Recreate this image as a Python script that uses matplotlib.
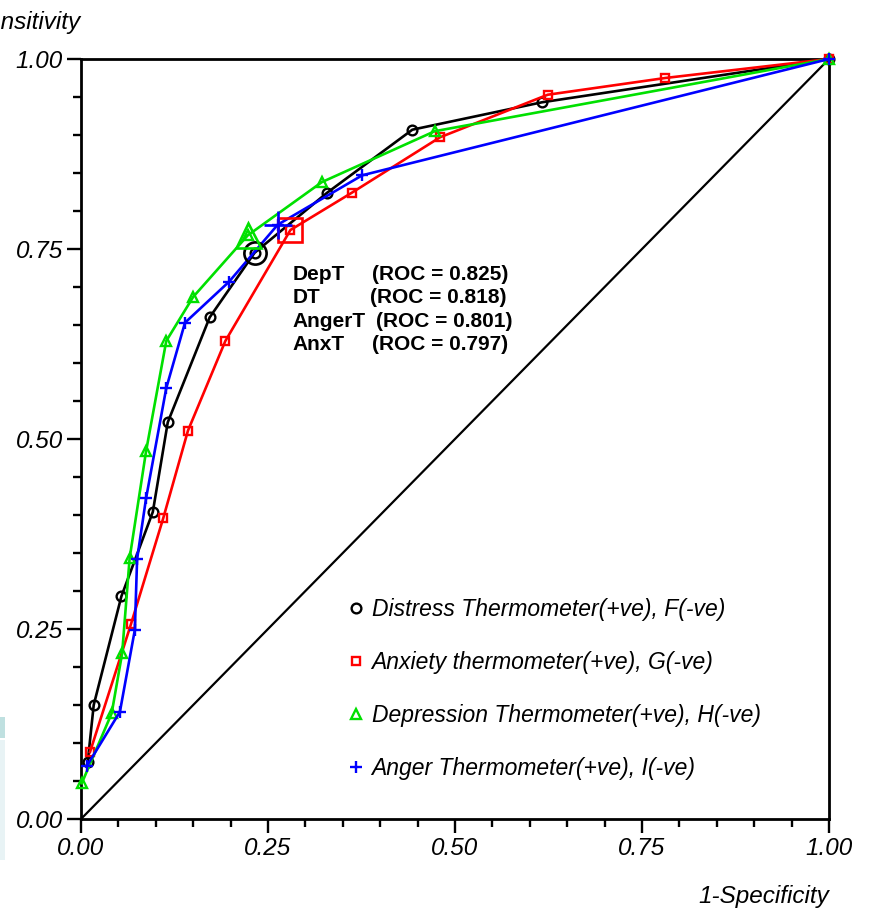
import matplotlib
matplotlib.use("Agg")
import matplotlib.pyplot as plt
from matplotlib.patches import Rectangle

# ROC points (1-specificity, sensitivity)
dt_x = [0.009, 0.017, 0.054, 0.096, 0.116, 0.172, 0.232, 0.329, 0.443, 0.616, 1.0]
dt_y = [0.075, 0.150, 0.293, 0.404, 0.522, 0.660, 0.745, 0.824, 0.907, 0.943, 1.0]

anx_x = [0.012, 0.067, 0.110, 0.143, 0.193, 0.280, 0.362, 0.480, 0.624, 0.781, 1.0]
anx_y = [0.088, 0.257, 0.396, 0.511, 0.629, 0.775, 0.824, 0.897, 0.953, 0.975, 1.0]

dep_x = [0.001, 0.041, 0.055, 0.065, 0.087, 0.114, 0.150, 0.223, 0.322, 0.473, 1.0]
dep_y = [0.047, 0.139, 0.218, 0.343, 0.484, 0.629, 0.687, 0.768, 0.838, 0.905, 1.0]

ang_x = [0.008, 0.052, 0.072, 0.075, 0.087, 0.114, 0.139, 0.198, 0.263, 0.376, 1.0]
ang_y = [0.070, 0.141, 0.249, 0.342, 0.422, 0.567, 0.653, 0.707, 0.782, 0.847, 1.0]

# index of the optimal cut-off point on each curve
cut_idx = {"dt": 6, "anx": 5, "dep": 7, "ang": 8}

labels = [
    "Distress Thermometer(+ve), F(-ve)",
    "Anxiety thermometer(+ve), G(-ve)",
    "Depression Thermometer(+ve), H(-ve)",
    "Anger Thermometer(+ve), I(-ve)",
]
roc_names = ["DepT", "DT", "AngerT", "AnxT"]
roc_values = [0.825, 0.818, 0.801, 0.797]

plt.rcParams["font.family"] = ["Liberation Sans", "DejaVu Sans"]

fig = plt.figure(figsize=(8.69, 9.10), dpi=100)
ax = fig.add_axes([81 / 869, 91 / 910, 748 / 869, 760 / 910])

green = "#00e000"
series = [
    ("dt", dt_x, dt_y, "black", "o", 7.0, 16),
    ("anx", anx_x, anx_y, "red", "s", 6.0, 17),
    ("dep", dep_x, dep_y, green, "^", 7.5, 18),
    ("ang", ang_x, ang_y, "blue", "+", 8.5, 20),
]

ax.plot([0, 1], [0, 1], color="black", lw=1.6, zorder=1)

for key, xs, ys, col, mk, ms, big in series:
    ax.plot(xs, ys, color=col, lw=1.9, marker=mk, ms=ms, mfc="none",
            mec=col, mew=1.7, clip_on=False, zorder=3)
    i = cut_idx[key]
    ax.plot([xs[i]], [ys[i]], ls="none", marker=mk, ms=big, mfc="none",
            mec=col, mew=1.9, clip_on=False, zorder=4)

# legend: markers only
leg_handles = []
for key, xs, ys, col, mk, ms, big in series:
    (lh,) = ax.plot([], [], ls="none", marker=mk, ms=ms, mfc="none",
                    mec=col, mew=1.7)
    leg_handles.append(lh)
ax.legend(leg_handles, labels, loc="center left", bbox_to_anchor=(0.341, 0.171),
          frameon=False, prop={"style": "italic", "size": 16.5}, handlelength=0.7,
          handletextpad=0.35, labelspacing=1.31, borderpad=0, numpoints=1)

# ROC annotation
ys_txt = [0.716, 0.686, 0.655, 0.625]
roc_x = [0.389, 0.387, 0.394, 0.389]
for name, val, yy, rx in zip(roc_names, roc_values, ys_txt, roc_x):
    ax.text(0.283, yy, name, fontsize=15, fontweight="bold", va="center", ha="left")
    ax.text(rx, yy, f"(ROC = {val:.3f})", fontsize=15, fontweight="bold",
            va="center", ha="left")

ax.set_xlim(0, 1)
ax.set_ylim(0, 1)
ticks = [0, 0.25, 0.5, 0.75, 1.0]
ax.set_xticks(ticks)
ax.set_yticks(ticks)
ax.set_xticklabels([f"{t:.2f}" for t in ticks], fontsize=17.5, style="italic")
ax.set_yticklabels([f"{t:.2f}" for t in ticks], fontsize=17.5, style="italic")
ax.set_xticks([i * 0.05 for i in range(21)], minor=True)
ax.set_yticks([i * 0.05 for i in range(21)], minor=True)
ax.tick_params(which="major", direction="out", length=10, width=1.7, pad=3)
ax.tick_params(which="minor", direction="out", length=5.5, width=1.7)
for sp in ax.spines.values():
    sp.set_linewidth(2.0)

fig.text(80 / 869, 1 - 22 / 910, "Sensitivity", ha="right", va="center",
         fontsize=17.5, style="italic")
fig.text(829 / 869, 1 - 897 / 910, "1-Specificity", ha="right", va="center",
         fontsize=17.5, style="italic")

# faint table edge at far left of screenshot
fig.patches.append(Rectangle((0, 1 - 738 / 910), 5 / 869, 21 / 910,
                             transform=fig.transFigure, color="#bfe0e0", lw=0))
fig.patches.append(Rectangle((0, 1 - 860 / 910), 5 / 869, 120 / 910,
                             transform=fig.transFigure, color="#e8f3f5", lw=0))

fig.savefig("out.png", dpi=100)
